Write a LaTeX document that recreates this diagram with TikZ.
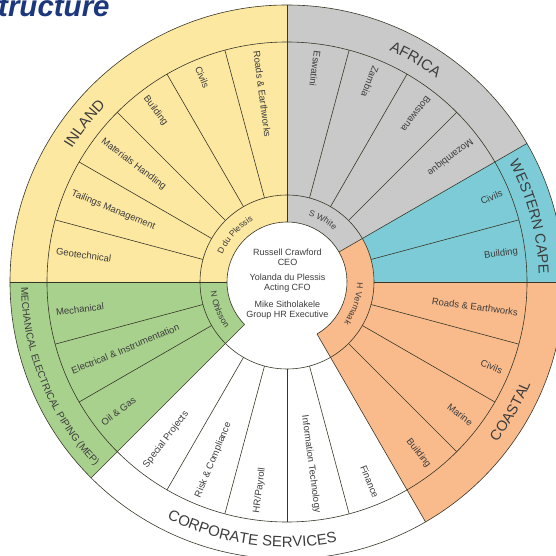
\documentclass[tikz,border=0pt]{standalone}
\usepackage{fontspec}
\setmainfont{Liberation Sans}
\usetikzlibrary{decorations.text}

\definecolor{inlandfill}{RGB}{253,232,161}
\definecolor{africafill}{RGB}{201,201,201}
\definecolor{capefill}{RGB}{125,203,214}
\definecolor{coastfill}{RGB}{250,187,140}
\definecolor{mepfill}{RGB}{169,209,142}
\definecolor{sectorline}{RGB}{55,55,40}
\definecolor{labeltext}{RGB}{60,60,60}
\definecolor{titleblue}{RGB}{28,55,125}

\newcommand{\ringfont}{\fontsize{15}{18}\selectfont}
\newcommand{\smallringfont}{\fontsize{10}{12}\selectfont}
\newcommand{\bandfont}{\fontsize{8.5}{10}\selectfont}

\tikzset{
  divider/.style={draw=sectorline, line width=0.6pt},
  deptlabel/.style={font=\fontsize{9.5}{11}\selectfont, text=labeltext, inner sep=1pt},
  outlabel/.style={deptlabel, anchor=east},
  inlabel/.style={deptlabel, anchor=west},
  ringtext/.style={decorate, decoration={text along path, text align=center, text color=labeltext, text={#1}}}
}

\begin{document}
\begin{tikzpicture}[x=1pt,y=1pt]
    \clip (-287,-274) rectangle (269,282);

    % regions
    \fill[inlandfill] (90:60) -- (90:277) arc (90:180:277) -- (180:60) arc (180:90:60) -- cycle;
    \fill[africafill] (30:60) -- (30:277) arc (30:90:277) -- (90:60) arc (90:30:60) -- cycle;
    \fill[capefill] (0:87) -- (0:277) arc (0:30:277) -- (30:87) arc (30:0:87) -- cycle;
    \fill[coastfill] (-60:60) -- (-60:277) arc (-60:0:277) -- (0:87) arc (0:30:87) -- (30:60) arc (30:-60:60) -- cycle;
    \fill[mepfill] (180:60) -- (180:277) arc (180:225:277) -- (225:60) arc (225:180:60) -- cycle;

    % rings
    \path [divider] (0,0) circle (277);
    \path [divider] (0,0) circle (240);
    \path [divider] (0,0) circle (87);
    \path [divider] (-60:60) arc (-60:225:60);

    % region borders
    \path [divider] (90:60) -- (90:277);
    \path [divider] (180:60) -- (180:277);
    \path [divider] (225:60) -- (225:277);
    \path [divider] (300:60) -- (300:277);
    \path [divider] (30:60) -- (30:277);
    \path [divider] (0:87) -- (0:277);

    % department borders
    \path [divider] (105:87) -- (105:240);
    \path [divider] (120:87) -- (120:240);
    \path [divider] (135:87) -- (135:240);
    \path [divider] (150:87) -- (150:240);
    \path [divider] (165:87) -- (165:240);
    \path [divider] (45:87) -- (45:240);
    \path [divider] (60:87) -- (60:240);
    \path [divider] (75:87) -- (75:240);
    \path [divider] (15:87) -- (15:240);
    \path [divider] (345:87) -- (345:240);
    \path [divider] (330:87) -- (330:240);
    \path [divider] (315:87) -- (315:240);
    \path [divider] (240:87) -- (240:240);
    \path [divider] (255:87) -- (255:240);
    \path [divider] (270:87) -- (270:240);
    \path [divider] (285:87) -- (285:240);
    \path [divider] (195:87) -- (195:240);
    \path [divider] (210:87) -- (210:240);

    % region names
    \path [ringtext={|\ringfont|INLAND}] (172:253) arc (172:112:253);
    \path [ringtext={|\ringfont|AFRICA}] (90:253) arc (90:30:253);
    \path [ringtext={|\fontsize{14.5}{17}\selectfont|WESTERN CAPE}] (45:252) arc (45:-15:252);
    \path [ringtext={|\fontsize{14.5}{17}\selectfont|COASTAL}] (-60:264) arc (-60:0:264);
    \path [ringtext={|\ringfont|CORPORATE SERVICES}] (222:265) arc (222:302:265);
    \path [ringtext={|\smallringfont|MECHANICAL ELECTRICAL PIPING (MEP)}] (172:266) arc (172:233:266);

    % heads
    \path [ringtext={|\bandfont|D du Plessis}] (178:70) arc (178:98:70);
    \path [ringtext={|\bandfont|S White}] (100:70) arc (100:20:70);
    \path [ringtext={|\bandfont|H Vermaak}] (22:70) arc (22:-58:70);
    \path [ringtext={|\bandfont|N Ohlsson}] (162:77) arc (162:242:77);

    % inland
    \node[inlabel, rotate=277.5] (inroads) at (97.5:234) {Roads \& Earthworks};
    \node[inlabel, rotate=292.5] (incivils) at (112.5:234) {Civils};
    \node[inlabel, rotate=307.5] (inbuilding) at (127.5:234) {Building};
    \node[inlabel, rotate=322.5] (inmaterials) at (142.5:234) {Materials Handling};
    \node[inlabel, rotate=337.5] (intailings) at (157.5:234) {Tailings Management};
    \node[inlabel, rotate=352.5] (ingeo) at (172.5:234) {Geotechnical};

    % africa
    \node[inlabel, rotate=262.5] (afeswatini) at (82.5:234) {Eswatini};
    \node[inlabel, rotate=247.5] (afzambia) at (67.5:234) {Zambia};
    \node[inlabel, rotate=232.5] (afbotswana) at (52.5:234) {Botswana};
    \node[inlabel, rotate=217.5] (afmozambique) at (37.5:234) {Mozambique};

    % western cape
    \node[outlabel, rotate=22.5] (wccivils) at (22.5:234) {Civils};
    \node[outlabel, rotate=7.5] (wcbuilding) at (7.5:234) {Building};

    % coastal
    \node[outlabel, rotate=352.5] (coroads) at (352.5:234) {Roads \& Earthworks};
    \node[outlabel, rotate=337.5] (cocivils) at (337.5:234) {Civils};
    \node[outlabel, rotate=322.5] (comarine) at (322.5:234) {Marine};
    \node[outlabel, rotate=307.5] (cobuilding) at (307.5:234) {Building};

    % corporate services
    \node[outlabel, rotate=292.5] (csfinance) at (292.5:234) {Finance};
    \node[outlabel, rotate=277.5] (csit) at (277.5:234) {Information Technology};
    \node[inlabel, rotate=82.5] (cshr) at (262.5:234) {HR/Payroll};
    \node[inlabel, rotate=67.5] (csrisk) at (247.5:234) {Risk \& Compliance};
    \node[inlabel, rotate=52.5] (csspecial) at (232.5:234) {Special Projects};

    % mep
    \node[inlabel, rotate=7.5] (mepmech) at (187.5:234) {Mechanical};
    \node[inlabel, rotate=22.5] (mepelec) at (202.5:234) {Electrical \& Instrumentation};
    \node[inlabel, rotate=37.5] (mepoil) at (217.5:234) {Oil \& Gas};

    % executives
    \node[font=\fontsize{9}{10}\selectfont, align=center, text=labeltext] (ceo) at (0.5,25) {Russell Crawford\\CEO};
    \node[font=\fontsize{9}{10}\selectfont, align=center, text=labeltext] (cfo) at (0.5,-1.5) {Yolanda du Plessis\\Acting CFO};
    \node[font=\fontsize{9}{10}\selectfont, align=center, text=labeltext] (hr) at (0.5,-28) {Mike Sitholakele\\Group HR Executive};

    \node[anchor=base west, inner sep=0, font=\bfseries\itshape\fontsize{29.5}{30}\selectfont, text=titleblue] (title) at (-289,265) {tructure};
\end{tikzpicture}
\end{document}
